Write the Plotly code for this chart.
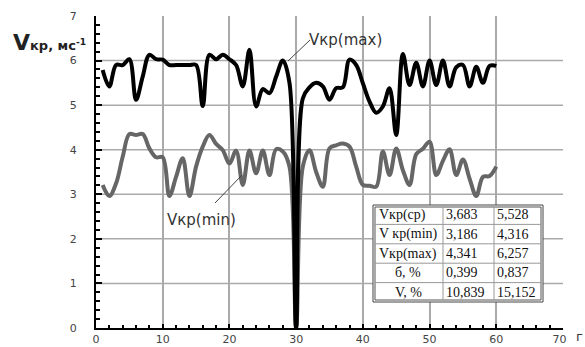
import plotly.graph_objects as go

# ---- data ----
x_vals = list(range(1, 61))
v_max = [5.79, 5.42, 5.90, 5.90, 6.03, 5.12, 5.64, 6.13, 6.03, 6.02,
         5.90, 5.90, 5.90, 5.90, 5.90, 4.98, 6.13, 6.03, 6.13, 6.03,
         5.90, 5.42, 6.24, 4.97, 5.36, 5.27, 5.64, 6.00, 5.50, 0.00,
         5.15, 5.40, 5.50, 5.42, 5.12, 5.38, 5.40, 6.02, 5.90, 5.49,
         5.08, 4.83, 4.97, 5.38, 4.33, 6.15, 5.45, 5.95, 5.42, 6.00,
         5.45, 6.00, 5.42, 5.85, 5.90, 5.42, 5.86, 5.50, 5.88, 5.88]
v_min = [3.21, 2.96, 3.24, 3.84, 4.35, 4.33, 4.35, 4.03, 3.83, 3.83,
         2.96, 3.39, 3.81, 2.96, 3.62, 4.07, 4.33, 4.13, 3.99, 3.69,
         3.98, 3.21, 3.98, 3.47, 3.98, 3.43, 4.01, 3.96, 3.62, 0.00,
         3.62, 3.99, 3.50, 3.17, 4.03, 4.10, 4.14, 4.07, 3.62, 3.21,
         3.19, 3.17, 3.96, 3.43, 4.03, 3.54, 3.21, 3.90, 4.02, 4.18,
         3.43, 3.75, 4.01, 3.43, 3.78, 3.35, 2.96, 3.39, 3.41, 3.62]

table_labels = ["Vкр(ср)", "V кр(min)", "Vкр(max)", "б, %", "V, %"]
table_col_min = ["3,683", "3,186", "4,341", "0,399", "10,839"]
table_col_max = ["5,528", "4,316", "6,257", "0,837", "15,152"]

x_ticks = [0, 10, 20, 30, 40, 50, 60, 70]
x_ticktext = ["0", "10", "20", "30", "40", "50", "60", "70\u00a0\u00a0"]
y_ticks = [0, 1, 2, 3, 4, 5, 6, 7]

# ---- layout geometry (pixels) ----
WIDTH, HEIGHT = 585, 347
L, R, T, B = 96, 563, 16, 328
PW, PH = R - L, B - T


def fx(p):
    return (p - L) / PW


def fy(p):
    return (B - p) / PH


fig = go.Figure()
fig.add_trace(go.Scatter(x=x_vals, y=v_min, mode="lines",
                         line=dict(color="#666666", width=4, shape="spline", smoothing=1.0),
                         showlegend=False, hoverinfo="skip"))
fig.add_trace(go.Scatter(x=x_vals, y=v_max, mode="lines",
                         line=dict(color="#000000", width=4, shape="spline", smoothing=1.0),
                         showlegend=False, hoverinfo="skip"))

shapes = []
# horizontal grid lines (no line at the top)
for yv in y_ticks[1:-1]:
    shapes.append(dict(type="line", xref="paper", yref="y", x0=0, x1=1, y0=yv, y1=yv,
                       line=dict(color="#aaaaaa", width=1.5), layer="below"))

# leader lines
shapes.append(dict(type="line", xref="paper", yref="paper",
                   x0=fx(288), y0=fy(61), x1=fx(310), y1=fy(40),
                   line=dict(color="#444444", width=1)))
shapes.append(dict(type="line", xref="paper", yref="paper",
                   x0=fx(215), y0=fy(203), x1=fx(242), y1=fy(175),
                   line=dict(color="#444444", width=1)))

# table
tx = [373, 443, 494, 543]
ty0, rh = 205, 19.4
ty = [ty0 + rh * i for i in range(len(table_labels) + 1)]
shapes.append(dict(type="rect", xref="paper", yref="paper",
                   x0=fx(tx[0]), x1=fx(tx[-1]), y0=fy(ty[0]), y1=fy(ty[-1]),
                   fillcolor="white", line=dict(color="#444444", width=1)))
shapes.append(dict(type="rect", xref="paper", yref="paper",
                   x0=fx(tx[0] + 2), x1=fx(tx[-1] - 2), y0=fy(ty[0] + 2), y1=fy(ty[-1] - 2),
                   line=dict(color="#555555", width=1)))
for xc in tx[1:-1]:
    shapes.append(dict(type="line", xref="paper", yref="paper",
                       x0=fx(xc), x1=fx(xc), y0=fy(ty[0] + 2), y1=fy(ty[-1] - 2),
                       line=dict(color="#999999", width=1)))
for yc in ty[1:-1]:
    shapes.append(dict(type="line", xref="paper", yref="paper",
                       x0=fx(tx[0] + 2), x1=fx(tx[-1] - 2), y0=fy(yc), y1=fy(yc),
                       line=dict(color="#999999", width=1)))

annotations = []
tfont = dict(family="Liberation Serif", size=14, color="#111111")
for i, (lab, a, b) in enumerate(zip(table_labels, table_col_min, table_col_max)):
    yc = fy(ty[i] + rh / 2)
    if i < 3:
        annotations.append(dict(x=fx(tx[0] + 4), y=yc, xref="paper", yref="paper", text=lab,
                                showarrow=False, xanchor="left", yanchor="middle", font=tfont))
    else:
        annotations.append(dict(x=fx((tx[0] + tx[1]) / 2), y=yc, xref="paper", yref="paper", text=lab,
                                showarrow=False, xanchor="center", yanchor="middle", font=tfont))
    annotations.append(dict(x=fx(tx[1] + 1), y=yc, xref="paper", yref="paper", text=a,
                            showarrow=False, xanchor="left", yanchor="middle", font=tfont))
    annotations.append(dict(x=fx(tx[2] + 1), y=yc, xref="paper", yref="paper", text=b,
                            showarrow=False, xanchor="left", yanchor="middle", font=tfont))

lfont = dict(family="DejaVu Sans", size=15, color="#333333")
annotations.append(dict(x=fx(307), y=fy(40), xref="paper", yref="paper", text="Vкр(max)",
                        showarrow=False, xanchor="left", yanchor="middle", font=lfont))
annotations.append(dict(x=fx(165), y=fy(220), xref="paper", yref="paper", text="Vкр(min)",
                        showarrow=False, xanchor="left", yanchor="middle", font=lfont))
annotations.append(dict(x=fx(11), y=fy(42), xref="paper", yref="paper",
                        text="<b><span style='font-size:22px'>V</span>кр, мс<sup>-1</sup></b>",
                        showarrow=False, xanchor="left", yanchor="middle",
                        font=dict(family="DejaVu Sans", size=13, color="#222222")))
annotations.append(dict(x=fx(574), y=fy(337), xref="paper", yref="paper", text="г",
                        showarrow=False, xanchor="left", yanchor="middle",
                        font=dict(family="DejaVu Sans", size=13, color="#333333")))

tickfont = dict(family="DejaVu Sans", size=11, color="#444444")
fig.update_layout(
    width=WIDTH, height=HEIGHT,
    margin=dict(l=L, r=WIDTH - R, t=T, b=HEIGHT - B, autoexpand=False),
    paper_bgcolor="white", plot_bgcolor="white",
    shapes=shapes, annotations=annotations,
    xaxis=dict(range=[0, 70], tickmode="array", tickvals=x_ticks,
               ticktext=x_ticktext, automargin=False,
               showline=True, linecolor="black", linewidth=2,
               showgrid=True, gridcolor="#aaaaaa", gridwidth=1.5,
               ticks="inside", ticklen=4, tickwidth=2, tickcolor="black",
               minor=dict(dtick=2, ticks="inside", ticklen=3, tickwidth=2, tickcolor="black", showgrid=False),
               zeroline=False, tickfont=tickfont, fixedrange=True),
    yaxis=dict(range=[0, 7], tickmode="array", tickvals=y_ticks,
               ticktext=[str(v) for v in y_ticks], automargin=False,
               showline=True, linecolor="black", linewidth=2,
               showgrid=False,
               ticks="inside", ticklen=6, tickwidth=2, tickcolor="black",
               minor=dict(dtick=0.2, ticks="inside", ticklen=4, tickwidth=2, tickcolor="black", showgrid=False),
               zeroline=False, tickfont=tickfont, ticklabelstandoff=15, fixedrange=True),
)

fig.write_html("out.html")
